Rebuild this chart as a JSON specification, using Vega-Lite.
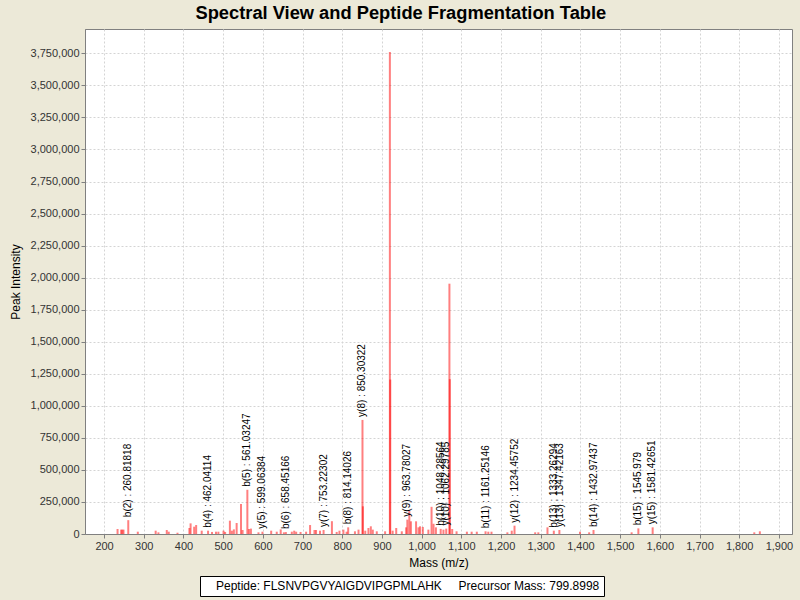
{
  "$schema": "https://vega.github.io/schema/vega-lite/v6.json",
  "width": 707,
  "height": 505,
  "autosize": {"type": "none"},
  "padding": {"left": 85, "top": 29, "right": 8, "bottom": 66},
  "background": "#ECE9D8",
  "title": {"text": "Spectral View and Peptide Fragmentation Table", "fontSize": 18.3, "font": "Liberation Sans", "fontWeight": "bold", "frame": "bounds", "anchor": "middle", "offset": 6, "color": "black"},
  "config": {
    "view": {"fill": "white", "stroke": "#808080"},
    "axis": {"grid": true, "gridColor": "#d4d4d4", "gridDash": [2, 2], "domainColor": "#808080", "tickColor": "#808080", "tickSize": 4, "labelFont": "Liberation Sans", "labelFontSize": 11, "labelColor": "#333333", "labelOverlap": false, "titleFont": "Liberation Sans", "titleFontSize": 12, "titleFontWeight": "normal", "titleColor": "black"}
  },
  "datasets": {
    "peaks": [
      {"mz": 234, "intensity": 39000}, {"mz": 243, "intensity": 34000}, {"mz": 246, "intensity": 34000}, {"mz": 249, "intensity": 34000},
      {"mz": 261, "intensity": 108000}, {"mz": 285, "intensity": 18000}, {"mz": 330, "intensity": 26000}, {"mz": 337, "intensity": 13000},
      {"mz": 358, "intensity": 31000}, {"mz": 363, "intensity": 18000}, {"mz": 385, "intensity": 10000}, {"mz": 415, "intensity": 47000},
      {"mz": 418, "intensity": 83000}, {"mz": 427, "intensity": 57000}, {"mz": 432, "intensity": 70000}, {"mz": 446, "intensity": 26000},
      {"mz": 462, "intensity": 26000}, {"mz": 472, "intensity": 16000}, {"mz": 482, "intensity": 18000}, {"mz": 488, "intensity": 18000},
      {"mz": 501, "intensity": 26000}, {"mz": 505, "intensity": 16000}, {"mz": 517, "intensity": 104000}, {"mz": 522, "intensity": 26000},
      {"mz": 527, "intensity": 36000}, {"mz": 534, "intensity": 86000}, {"mz": 545, "intensity": 234000}, {"mz": 549, "intensity": 31000},
      {"mz": 561, "intensity": 345000}, {"mz": 565, "intensity": 39000}, {"mz": 570, "intensity": 42000}, {"mz": 589, "intensity": 13000},
      {"mz": 599, "intensity": 18000}, {"mz": 621, "intensity": 26000}, {"mz": 635, "intensity": 18000}, {"mz": 645, "intensity": 36000},
      {"mz": 653, "intensity": 13000}, {"mz": 658, "intensity": 15000}, {"mz": 673, "intensity": 18000}, {"mz": 679, "intensity": 26000},
      {"mz": 684, "intensity": 18000}, {"mz": 695, "intensity": 16000}, {"mz": 709, "intensity": 18000}, {"mz": 719, "intensity": 70000},
      {"mz": 730, "intensity": 31000}, {"mz": 734, "intensity": 31000}, {"mz": 744, "intensity": 26000}, {"mz": 753, "intensity": 31000},
      {"mz": 774, "intensity": 100000}, {"mz": 786, "intensity": 16000}, {"mz": 793, "intensity": 26000}, {"mz": 803, "intensity": 34000},
      {"mz": 811, "intensity": 18000}, {"mz": 815, "intensity": 52000}, {"mz": 832, "intensity": 21000}, {"mz": 841, "intensity": 34000},
      {"mz": 851, "intensity": 890000}, {"mz": 852, "intensity": 216000}, {"mz": 858, "intensity": 26000}, {"mz": 866, "intensity": 47000},
      {"mz": 872, "intensity": 60000}, {"mz": 877, "intensity": 34000}, {"mz": 887, "intensity": 21000}, {"mz": 908, "intensity": 21000},
      {"mz": 920, "intensity": 3760000}, {"mz": 921, "intensity": 1205000}, {"mz": 927, "intensity": 26000}, {"mz": 936, "intensity": 47000},
      {"mz": 950, "intensity": 21000}, {"mz": 961, "intensity": 52000}, {"mz": 964, "intensity": 112000}, {"mz": 969, "intensity": 180000},
      {"mz": 973, "intensity": 99000}, {"mz": 986, "intensity": 99000}, {"mz": 992, "intensity": 52000}, {"mz": 996, "intensity": 60000},
      {"mz": 1003, "intensity": 55000}, {"mz": 1017, "intensity": 34000}, {"mz": 1025, "intensity": 212000}, {"mz": 1030, "intensity": 80000},
      {"mz": 1036, "intensity": 52000}, {"mz": 1048, "intensity": 40000}, {"mz": 1055, "intensity": 34000}, {"mz": 1062, "intensity": 42000},
      {"mz": 1070, "intensity": 1953000}, {"mz": 1071, "intensity": 1208000}, {"mz": 1077, "intensity": 39000}, {"mz": 1088, "intensity": 21000},
      {"mz": 1114, "intensity": 18000}, {"mz": 1126, "intensity": 18000}, {"mz": 1139, "intensity": 18000}, {"mz": 1161, "intensity": 21000},
      {"mz": 1168, "intensity": 18000}, {"mz": 1176, "intensity": 18000}, {"mz": 1216, "intensity": 13000}, {"mz": 1227, "intensity": 26000},
      {"mz": 1234, "intensity": 65000}, {"mz": 1286, "intensity": 13000}, {"mz": 1294, "intensity": 13000}, {"mz": 1317, "intensity": 52000},
      {"mz": 1333, "intensity": 26000}, {"mz": 1347, "intensity": 31000}, {"mz": 1399, "intensity": 18000}, {"mz": 1422, "intensity": 13000},
      {"mz": 1433, "intensity": 31000}, {"mz": 1529, "intensity": 13000}, {"mz": 1546, "intensity": 44000}, {"mz": 1582, "intensity": 52000},
      {"mz": 1838, "intensity": 13000}, {"mz": 1852, "intensity": 21000}
    ],
    "annotations": [
      {"label": "b(2) : 260.81818", "mz": 260.81818, "intensity": 108000},
      {"label": "b(4) : 462.04114", "mz": 462.04114, "intensity": 26000},
      {"label": "b(5) : 561.03247", "mz": 561.03247, "intensity": 345000},
      {"label": "y(5) : 599.06384", "mz": 599.06384, "intensity": 18000},
      {"label": "b(6) : 658.45166", "mz": 658.45166, "intensity": 15000},
      {"label": "y(7) : 753.22302", "mz": 753.22302, "intensity": 31000},
      {"label": "b(8) : 814.14026", "mz": 814.14026, "intensity": 52000},
      {"label": "y(8) : 850.30322", "mz": 850.30322, "intensity": 890000},
      {"label": "y(9) : 963.78027", "mz": 963.78027, "intensity": 112000},
      {"label": "b(10) : 1048.28564", "mz": 1048.28564, "intensity": 40000},
      {"label": "y(10) : 1062.29785", "mz": 1062.29785, "intensity": 42000},
      {"label": "b(11) : 1161.25146", "mz": 1161.25146, "intensity": 21000},
      {"label": "y(12) : 1234.45752", "mz": 1234.45752, "intensity": 65000},
      {"label": "b(13) : 1333.26294", "mz": 1333.26294, "intensity": 26000},
      {"label": "y(13) : 1347.42163", "mz": 1347.42163, "intensity": 31000},
      {"label": "b(14) : 1432.97437", "mz": 1432.97437, "intensity": 31000},
      {"label": "b(15) : 1545.979", "mz": 1545.979, "intensity": 44000},
      {"label": "y(15) : 1581.42651", "mz": 1581.42651, "intensity": 52000}
    ]
  },
  "layer": [
    {
      "data": {"name": "peaks"},
      "mark": {"type": "rule", "strokeWidth": 2, "opacity": 0.5},
      "encoding": {
        "x": {"field": "mz", "type": "quantitative", "title": "Mass (m/z)", "scale": {"domain": [152, 1933], "nice": false, "zero": false}, "axis": {"format": ",d", "values": [200, 300, 400, 500, 600, 700, 800, 900, 1000, 1100, 1200, 1300, 1400, 1500, 1600, 1700, 1800, 1900], "titlePadding": 6}},
        "y": {"field": "intensity", "type": "quantitative", "title": "Peak Intensity", "scale": {"domain": [0, 3940000], "nice": false}, "axis": {"format": ",d", "values": [0, 250000, 500000, 750000, 1000000, 1250000, 1500000, 1750000, 2000000, 2250000, 2500000, 2750000, 3000000, 3250000, 3500000, 3750000], "titlePadding": 8}},
        "y2": {"datum": 0},
        "color": {"datum": "Peptide: FLSNVPGVYAIGDVIPGPMLAHK\u00a0\u00a0\u00a0\u00a0\u00a0Precursor Mass: 799.8998", "scale": {"range": ["#ff0000"]},
          "legend": {"title": null, "orient": "none", "legendX": 115, "legendY": 547, "strokeColor": "black", "fillColor": "white", "padding": 4, "labelFontSize": 12, "labelFont": "Liberation Sans", "labelColor": "black", "labelLimit": 1000, "symbolSize": 0, "symbolStrokeWidth": 0, "symbolOpacity": 0, "labelOffset": 0, "cornerRadius": 0}}
      }
    },
    {
      "data": {"name": "annotations"},
      "mark": {"type": "text", "angle": 270, "align": "left", "baseline": "middle", "dx": 3, "fontSize": 10, "font": "Liberation Sans", "color": "black"},
      "encoding": {
        "x": {"field": "mz", "type": "quantitative", "title": "Mass (m/z)", "axis": {"format": ",d", "values": [200, 300, 400, 500, 600, 700, 800, 900, 1000, 1100, 1200, 1300, 1400, 1500, 1600, 1700, 1800, 1900], "titlePadding": 6}},
        "y": {"field": "intensity", "type": "quantitative", "title": "Peak Intensity", "axis": {"format": ",d", "values": [0, 250000, 500000, 750000, 1000000, 1250000, 1500000, 1750000, 2000000, 2250000, 2500000, 2750000, 3000000, 3250000, 3500000, 3750000], "titlePadding": 8}},
        "text": {"field": "label"}
      }
    }
  ]
}
